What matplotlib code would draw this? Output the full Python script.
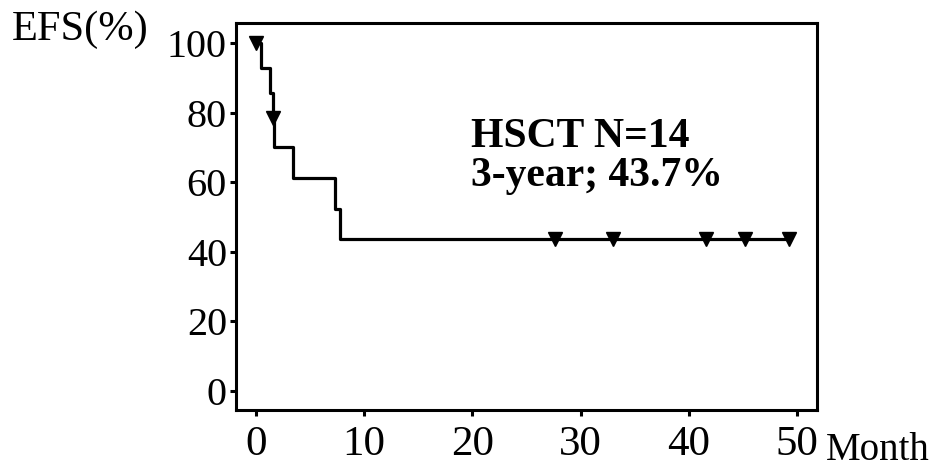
import numpy as np
import matplotlib.pyplot as plt

plt.rcParams['font.family'] = ['Liberation Serif', 'DejaVu Serif']

# Kaplan-Meier step curve (months, EFS %)
step_times = [0, 0.45, 1.32, 1.55, 1.66, 3.45, 7.3, 7.75, 49.2]
step_surv = [100, 92.9, 85.7, 78.6, 70.0, 61.2, 52.3, 43.7, 43.7]

# censored observations
censor_times = [0, 1.55, 27.6, 33.0, 41.6, 45.2, 49.2]
censor_surv = [100, 78.6, 43.7, 43.7, 43.7, 43.7, 43.7]

x_ticks = [0, 10, 20, 30, 40, 50]
y_ticks = [0, 20, 40, 60, 80, 100]

fig = plt.figure(figsize=(9.45, 4.72), dpi=100)
ax = fig.add_axes([0.2497, 0.1314, 0.6145, 0.8206])

ax.step(step_times, step_surv, where='post', color='black', lw=2.3)
ax.plot(censor_times, censor_surv, linestyle='none', marker='v',
        markersize=10.5, color='black')

ax.set_xlim(-1.85, 51.8)
ax.set_ylim(-5.5, 105.9)
ax.set_xticks(x_ticks)
ax.set_yticks(y_ticks)

for s in ax.spines.values():
    s.set_linewidth(2.2)
ax.tick_params(axis='both', direction='out', length=4.5, width=2.2)
ax.tick_params(axis='x', labelsize=31, pad=7)
ax.tick_params(axis='y', labelsize=29, pad=2)

ax.text(19.9, 70.0, "HSCT N=14", fontsize=30, fontweight='bold', va='baseline')
ax.text(19.9, 58.8, "3-year; 43.7%", fontsize=30, fontweight='bold', va='baseline')

fig.text(12 / 945, 1 - 40 / 472, "EFS(%)", fontsize=30.5, va='baseline', ha='left')
fig.text(826 / 945, 1 - 460 / 472, "Month", fontsize=28, va='baseline', ha='left')

fig.savefig("out.png", dpi=100)
